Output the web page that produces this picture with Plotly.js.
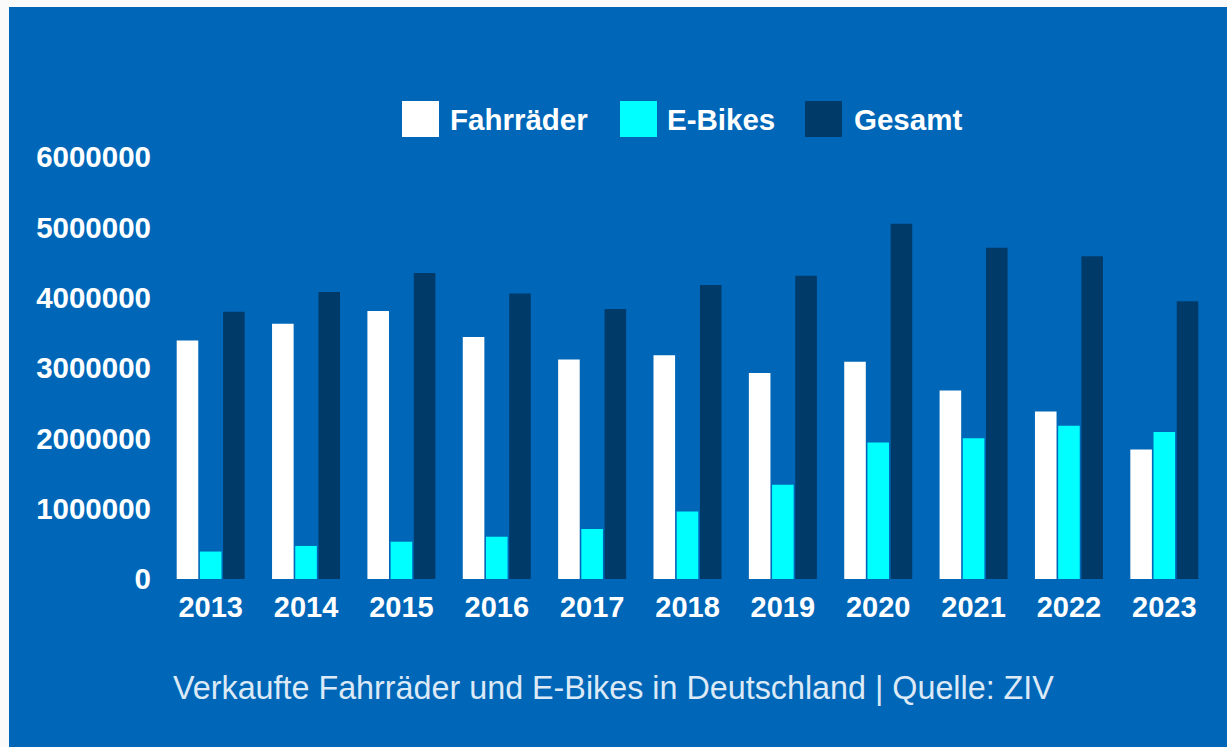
<!DOCTYPE html>
<html>
<head>
<meta charset="utf-8">
<script src="https://cdn.plot.ly/plotly-3.0.1.min.js"></script>
<style>html,body{margin:0;padding:0;background:#fafafa;}#chart{width:1227px;height:747px;}</style>
</head>
<body>
<div id="chart"></div>
<script>
// ---- data ----
const years = ['2013','2014','2015','2016','2017','2018','2019','2020','2021','2022','2023'];
const seriesNames = ['Fahrräder','E-Bikes','Gesamt'];
const fahrraeder = [3390000,3630000,3810000,3440000,3120000,3180000,2930000,3090000,2680000,2380000,1840000];
const ebikes     = [390000,470000,530000,600000,710000,960000,1340000,1940000,2000000,2180000,2090000];
const gesamt     = [3800000,4080000,4350000,4060000,3840000,4180000,4310000,5050000,4710000,4590000,3950000];
const yTicks = [0,1000000,2000000,3000000,4000000,5000000,6000000];
const subtitle = 'Verkaufte Fahrräder und E-Bikes in Deutschland | Quelle: ZIV';

// ---- style ----
const W = 1227, H = 747;
const M = {l:163, r:15, t:157, b:168};
const PW = W - M.l - M.r, PH = H - M.t - M.b;
const px = x => (x - M.l) / PW;
const py = y => (H - M.b - y) / PH;
const colors = ['#ffffff','#00ffff','#003a68'];
const bg = '#0067b8';
const FONT = 'Liberation Sans, Arial, sans-serif';

const values = [fahrraeder, ebikes, gesamt];
const traces = seriesNames.map((n,i)=>({
  type:'bar', name:n, x:years, y:values[i],
  marker:{color:colors[i], line:{width:0}},
  hoverinfo:'skip'
}));

// manual legend (large square keys)
const legBoxLeft = [402, 620, 805];
const legTextLeft = [448, 665, 852];
const shapes = [];
const annotations = [];
seriesNames.forEach((n,i)=>{
  shapes.push({type:'rect', xref:'paper', yref:'paper',
    x0:px(legBoxLeft[i]), x1:px(legBoxLeft[i]+37), y0:py(137), y1:py(101),
    fillcolor:colors[i], line:{width:0}});
  annotations.push({xref:'paper', yref:'paper', x:px(legTextLeft[i]), y:py(120),
    xanchor:'left', yanchor:'middle', showarrow:false, text:n,
    font:{family:FONT, size:29.5, weight:700, color:'#ffffff'}});
});
// white frame strips of the source image
shapes.push({type:'rect', xref:'paper', yref:'paper', layer:'below',
  x0:px(0), x1:px(9), y0:py(H), y1:py(0), fillcolor:'#fafafa', line:{width:0}});
shapes.push({type:'rect', xref:'paper', yref:'paper', layer:'below',
  x0:px(0), x1:px(W), y0:py(7), y1:py(0), fillcolor:'#fafafa', line:{width:0}});

annotations.push({xref:'paper', yref:'paper', x:px(171), y:py(688),
  xanchor:'left', yanchor:'middle', showarrow:false, text:subtitle,
  font:{family:FONT, size:32.3, color:'#dce9f6'}});

const layout = {
  width:W, height:H,
  margin:M,
  paper_bgcolor:bg, plot_bgcolor:'rgba(0,0,0,0)',
  barmode:'group', bargap:0.27, bargroupgap:0.07,
  showlegend:false,
  xaxis:{type:'category', showgrid:false, zeroline:false, showline:false, ticks:'',
    tickfont:{family:FONT, size:29, weight:700, color:'#ffffff'}, ticklabelstandoff:8},
  yaxis:{range:[0,6000000], tickvals:yTicks, ticktext:yTicks.map(String),
    showgrid:false, zeroline:false, showline:false, ticks:'',
    tickfont:{family:FONT, size:29.5, weight:700, color:'#ffffff'}, ticklabelstandoff:11},
  shapes:shapes, annotations:annotations,
  font:{family:FONT, color:'#ffffff'}
};
Plotly.newPlot('chart', traces, layout, {displayModeBar:false, staticPlot:true});
</script>
</body>
</html>
